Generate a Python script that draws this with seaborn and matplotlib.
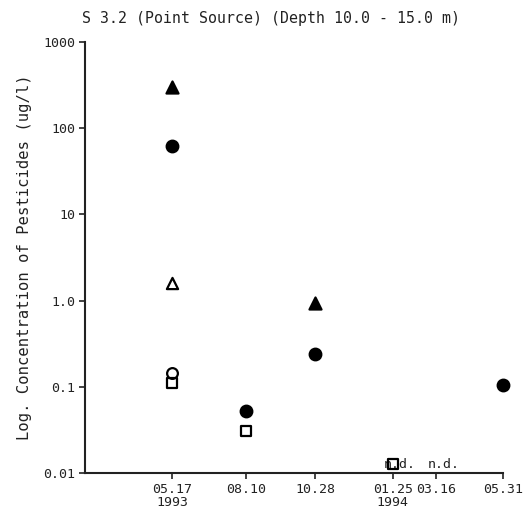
import numpy as np
import pandas as pd
import matplotlib
matplotlib.use("Agg")
import matplotlib.pyplot as plt
import seaborn as sns

# ---- data ----
dates = ["1993-05-17", "1993-08-10", "1993-10-28", "1994-01-25", "1994-03-16", "1994-05-31"]
tick_labels = ["05.17\n1993", "08.10", "10.28", "01.25\n1994", "03.16", "05.31"]
series_a_filled_tri = [300, np.nan, 0.95, np.nan, np.nan, np.nan]
series_b_filled_circ = [62, 0.053, 0.24, np.nan, np.nan, 0.105]
series_c_open_tri = [1.6, np.nan, np.nan, np.nan, np.nan, np.nan]
series_d_open_circ = [0.145, np.nan, np.nan, np.nan, np.nan, np.nan]
series_e_open_sq = [0.11, 0.031, np.nan, 0.0127, np.nan, np.nan]
nd_dates = ["1994-01-25", "1994-03-16"]
y_ticks = [0.01, 0.1, 1, 10, 100, 1000]
y_tick_labels = ["0.01", "0.1", "1.0", "10", "100", "1000"]

series = {
    "A": series_a_filled_tri,
    "B": series_b_filled_circ,
    "C": series_c_open_tri,
    "D": series_d_open_circ,
    "E": series_e_open_sq,
}
frames = []
for name, vals in series.items():
    frames.append(pd.DataFrame({"date": pd.to_datetime(dates), "value": vals, "series": name}))
df = pd.concat(frames).dropna()

styles = {
    "A": dict(marker="^", facecolor="black", s=75),
    "B": dict(marker="o", facecolor="black", s=70),
    "C": dict(marker="^", facecolor="white", s=65),
    "D": dict(marker="o", facecolor="white", s=60),
    "E": dict(marker="s", facecolor="none", s=50),
}

sns.set_style("ticks")
plt.rcParams["font.family"] = ["DejaVu Sans Mono"]

fig = plt.figure(figsize=(5.24, 5.17), dpi=100)
ax = fig.add_axes([0.1622, 0.0851, 0.9594 - 0.1622, 0.9188 - 0.0851])

# n.d. annotations
for d in nd_dates:
    ax.annotate("n.d.", xy=(pd.Timestamp(d), 0.01), xytext=(5, 1.5),
                textcoords="offset points", ha="center", va="bottom",
                fontsize=9.5, color="#222222")

for name, st in styles.items():
    sub = df[df["series"] == name]
    sns.scatterplot(data=sub, x="date", y="value", marker=st["marker"],
                    facecolor=st["facecolor"], edgecolor="black",
                    s=st["s"], linewidth=1.6, ax=ax, zorder=3, legend=False,
                    clip_on=False)

ax.set_yscale("log")
ax.set_ylim(0.01, 1000)
ax.set_yticks(y_ticks)
ax.set_yticklabels(y_tick_labels)
ax.yaxis.set_minor_locator(matplotlib.ticker.NullLocator())

ax.set_xlim(pd.Timestamp("1993-02-06"), pd.Timestamp("1994-05-31"))
ax.set_xticks(pd.to_datetime(dates))
ax.set_xticklabels(tick_labels, linespacing=1.05)

sns.despine(ax=ax)
for sp in ["left", "bottom"]:
    ax.spines[sp].set_linewidth(1.5)
    ax.spines[sp].set_color("#222222")
ax.tick_params(axis="both", direction="out", length=4, width=1.2,
               colors="#222222", labelsize=9.5, pad=3)

ax.set_xlabel("")
ax.set_ylabel("Log. Concentration of Pesticides (ug/l)", fontsize=11.2,
              color="#222222", labelpad=8)

fig.text(0.157, 0.965, "S 3.2 (Point Source) (Depth 10.0 - 15.0 m)",
         fontsize=10.7, ha="left", va="center", color="#222222")

fig.savefig("out.png", dpi=100)
